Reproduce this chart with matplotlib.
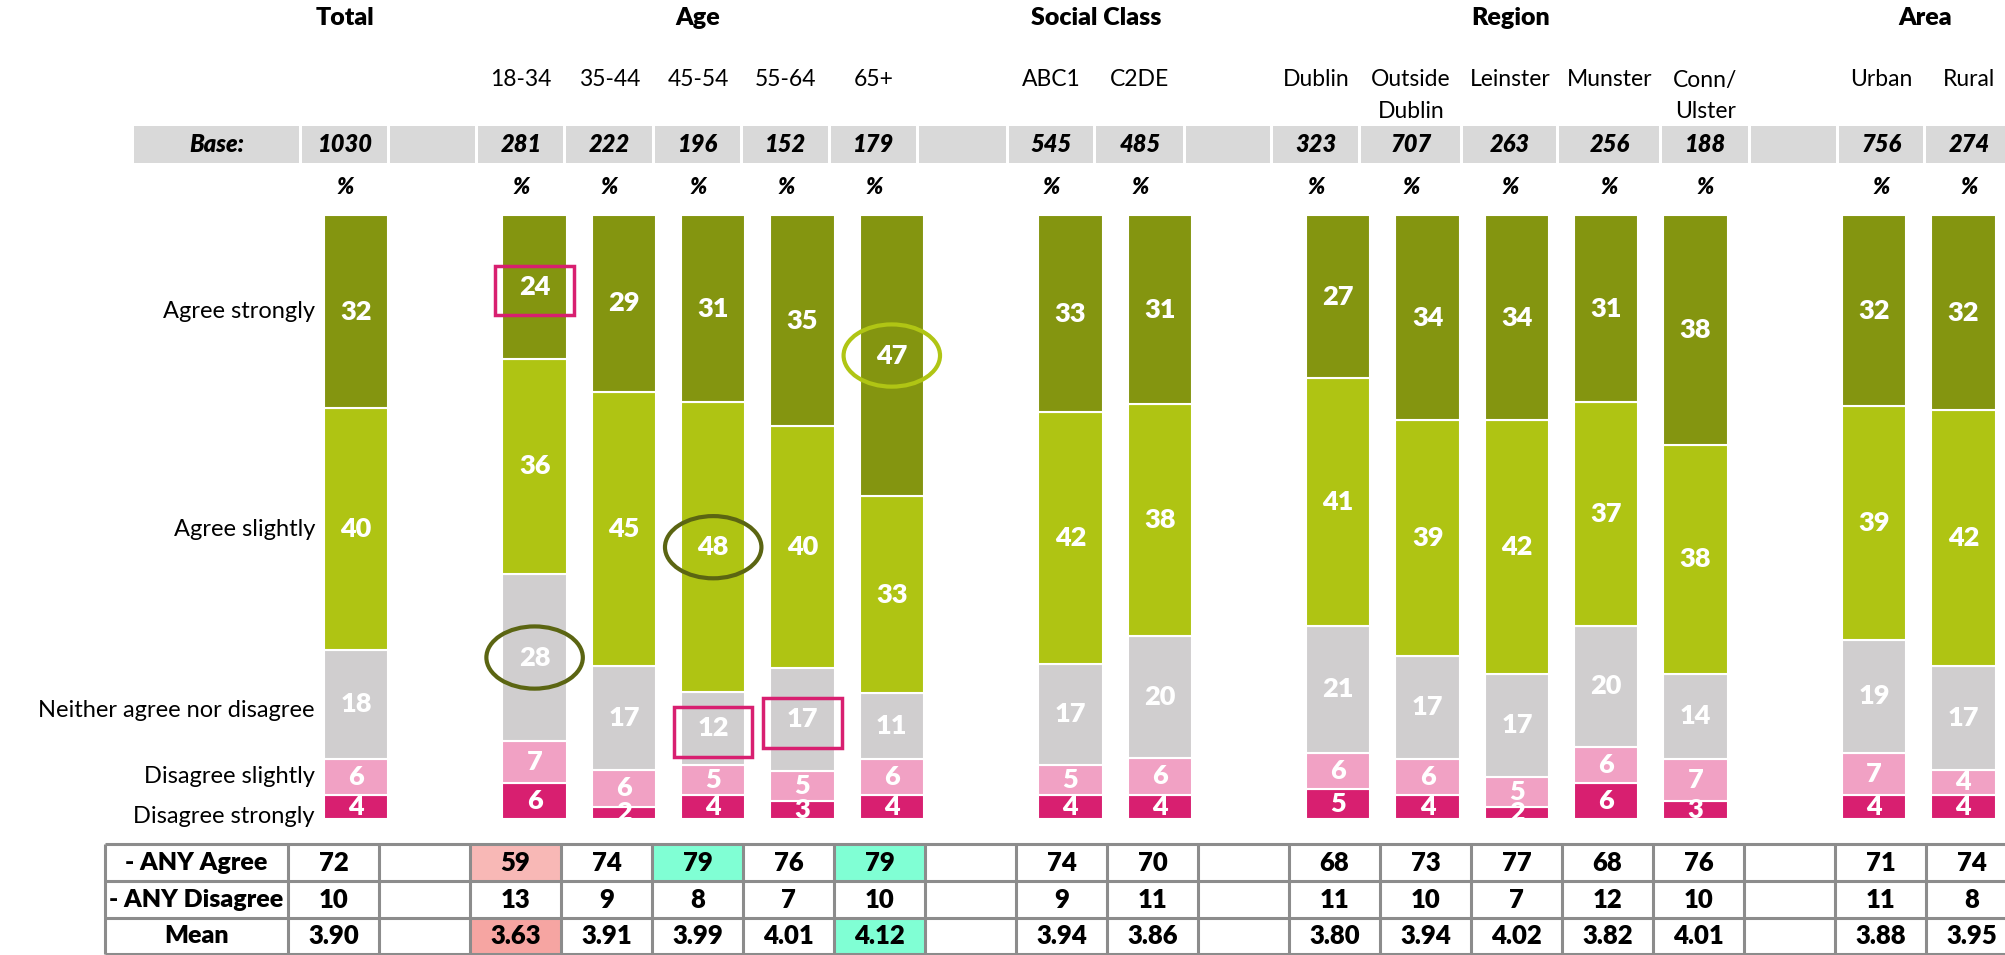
import numpy as np
import matplotlib
matplotlib.use("Agg")
import matplotlib.pyplot as plt
from matplotlib.patches import Rectangle, Ellipse

plt.rcParams["font.family"] = ["Lato", "DejaVu Sans"]

# ---- data ----
groups = ["Total", "Age", "Social Class", "Region", "Area"]
group_cols = [(0, 0), (1, 5), (6, 7), (8, 12), (13, 14)]
columns = ["Total", "18-34", "35-44", "45-54", "55-64", "65+", "ABC1", "C2DE",
           "Dublin", "Outside\nDublin", "Leinster", "Munster", "Conn/\nUlster",
           "Urban", "Rural"]
bases = [1030, 281, 222, 196, 152, 179, 545, 485, 323, 707, 263, 256, 188, 756, 274]

answers = ["Agree strongly", "Agree slightly", "Neither agree nor disagree",
           "Disagree slightly", "Disagree strongly"]
agree_strongly = [32, 24, 29, 31, 35, 47, 33, 31, 27, 34, 34, 31, 38, 32, 32]
agree_slightly = [40, 36, 45, 48, 40, 33, 42, 38, 41, 39, 42, 37, 38, 39, 42]
neither = [18, 28, 17, 12, 17, 11, 17, 20, 21, 17, 17, 20, 14, 19, 17]
disagree_slightly = [6, 7, 6, 5, 5, 6, 5, 6, 6, 6, 5, 6, 7, 7, 4]
disagree_strongly = [4, 6, 2, 4, 3, 4, 4, 4, 5, 4, 2, 6, 3, 4, 4]

any_agree = [72, 59, 74, 79, 76, 79, 74, 70, 68, 73, 77, 68, 76, 71, 74]
any_disagree = [10, 13, 9, 8, 7, 10, 9, 11, 11, 10, 7, 12, 10, 11, 8]
mean_score = [3.90, 3.63, 3.91, 3.99, 4.01, 4.12, 3.94, 3.86, 3.80, 3.94, 4.02,
              3.82, 4.01, 3.88, 3.95]

# significance marks: (column, answer index)
ellipses = [(1, 2, "#5b6512"), (3, 1, "#5b6512"), (5, 0, "#b0c514")]
boxes = [(1, 0), (3, 2), (4, 2)]
# table cell highlights: (row, column, colour)
cell_hl = [(0, 1, "#f8b8b6"), (0, 3, "#80ffd4"), (0, 5, "#80ffd4"),
           (2, 1, "#f6a5a2"), (2, 5, "#80ffd4")]

colors = ["#849510", "#afc413", "#d0cecf", "#f1a1c4", "#d81f70"]

# ---- layout (pixels of the 2006x955 canvas) ----
W, H = 2006, 955
slot = [0, 2, 3, 4, 5, 6, 8, 9, 11, 12, 13, 14, 15, 17, 18]   # gaps between groups
x0, pitch = 356, 89.3
bar_top, bar_bot = 215, 819
hdr_edges = [133, 301, 389, 477, 565, 654, 742, 830, 918, 1008, 1095, 1185,
             1272, 1360, 1462, 1558, 1661, 1750, 1838, 1925, 2013]
tab_left, tab_lab, cell_w = 105, 288, 91
row_edges = [844, 881, 918, 954]
HEAVY = "heavy"

fig = plt.figure(figsize=(W / 100, H / 100), dpi=100)
bg = fig.add_axes([0, 0, 1, 1])
bg.set_xlim(0, W); bg.set_ylim(H, 0); bg.axis("off")

# headers
def hcenter(s):
    return (hdr_edges[s + 1] + hdr_edges[s + 2]) / 2

for g, (a, b) in zip(groups, group_cols):
    xc = (hdr_edges[slot[a] + 1] + hdr_edges[slot[b] + 2]) / 2
    bg.text(xc, 18, g, ha="center", va="center", fontsize=18, fontweight=HEAVY)
for c, name in enumerate(columns):
    if c == 0:
        continue
    for k, line in enumerate(name.split("\n")):
        bg.text(hcenter(slot[c]), 80 + 31 * k, line, ha="center", va="center", fontsize=16.5)

# base row
for i in range(len(hdr_edges) - 1):
    bg.add_patch(Rectangle((hdr_edges[i] + 1.5, 126), hdr_edges[i + 1] - hdr_edges[i] - 3, 37,
                           color="#d9d9d9", lw=0))
bg.text((hdr_edges[0] + hdr_edges[1]) / 2, 145, "Base:", ha="center", va="center",
        fontsize=17, fontweight=HEAVY, style="italic")
for c, b in enumerate(bases):
    bg.text(hcenter(slot[c]), 145, str(b), ha="center", va="center",
            fontsize=17, fontweight=HEAVY, style="italic")
    bg.text(hcenter(slot[c]), 187, "%", ha="center", va="center",
            fontsize=16, fontweight=HEAVY, style="italic")

# ---- stacked bars ----
ax = fig.add_axes([(x0 - 0.5 * pitch) / W, (H - bar_bot) / H, 19 * pitch / W,
                   (bar_bot - bar_top) / H])
ax.set_xlim(-0.5, 18.5); ax.set_ylim(0, 100); ax.axis("off")

stack = np.array([agree_strongly, agree_slightly, neither, disagree_slightly,
                  disagree_strongly], float)
shares = stack / stack.sum(axis=0) * 100
centers = np.zeros_like(shares)
bottom = np.zeros(len(columns))
for i in reversed(range(len(answers))):
    ax.bar(slot, shares[i], width=0.72, bottom=bottom, color=colors[i],
           edgecolor="white", linewidth=1.5)
    centers[i] = bottom + shares[i] / 2
    for x, y, v in zip(slot, centers[i], stack[i]):
        ax.text(x, y, f"{v:.0f}", ha="center", va="center", color="white",
                fontsize=19.5, fontweight=HEAVY, clip_on=True)
    bottom += shares[i]

# answer labels beside the Total bar
label_nudge = [0, 0, -1.0, 0, -1.6]
for i, lab in enumerate(answers):
    ax.text(-0.46, centers[i][0] + label_nudge[i], lab, ha="right", va="center",
            fontsize=17, clip_on=False)

for c, i, col in ellipses:
    ax.add_patch(Ellipse((slot[c], centers[i][c]), 1.08, 10.3, fill=False,
                         ec=col, lw=3, clip_on=False))
for c, i in boxes:
    ax.add_patch(Rectangle((slot[c] - 0.44, centers[i][c] - 0.6 - 4.1), 0.88, 8.2,
                           fill=False, ec="#d81f70", lw=2.5, clip_on=False))

# ---- bottom table ----
row_names = ["- ANY Agree", "- ANY Disagree", "Mean"]
row_vals = [[str(v) for v in any_agree], [str(v) for v in any_disagree],
            [f"{v:.2f}" for v in mean_score]]
for r, c, col in cell_hl:
    bg.add_patch(Rectangle((tab_lab + slot[c] * cell_w, row_edges[r]), cell_w,
                           row_edges[r + 1] - row_edges[r], color=col, lw=0))
for r in range(3):
    yc = (row_edges[r] + row_edges[r + 1]) / 2
    bg.text((tab_left + tab_lab) / 2, yc, row_names[r], ha="center", va="center",
            fontsize=18, fontweight=HEAVY)
    for c, s in enumerate(row_vals[r]):
        bg.text(tab_lab + (slot[c] + 0.5) * cell_w, yc, s, ha="center", va="center",
                fontsize=18.5, fontweight=HEAVY)
bg.hlines(row_edges, tab_left, W, color="#8c8c8c", lw=2.2)
bg.vlines([tab_left] + [tab_lab + k * cell_w for k in range(20)], row_edges[0],
          row_edges[-1], color="#8c8c8c", lw=2.2)

fig.savefig("out.png", dpi=100)
